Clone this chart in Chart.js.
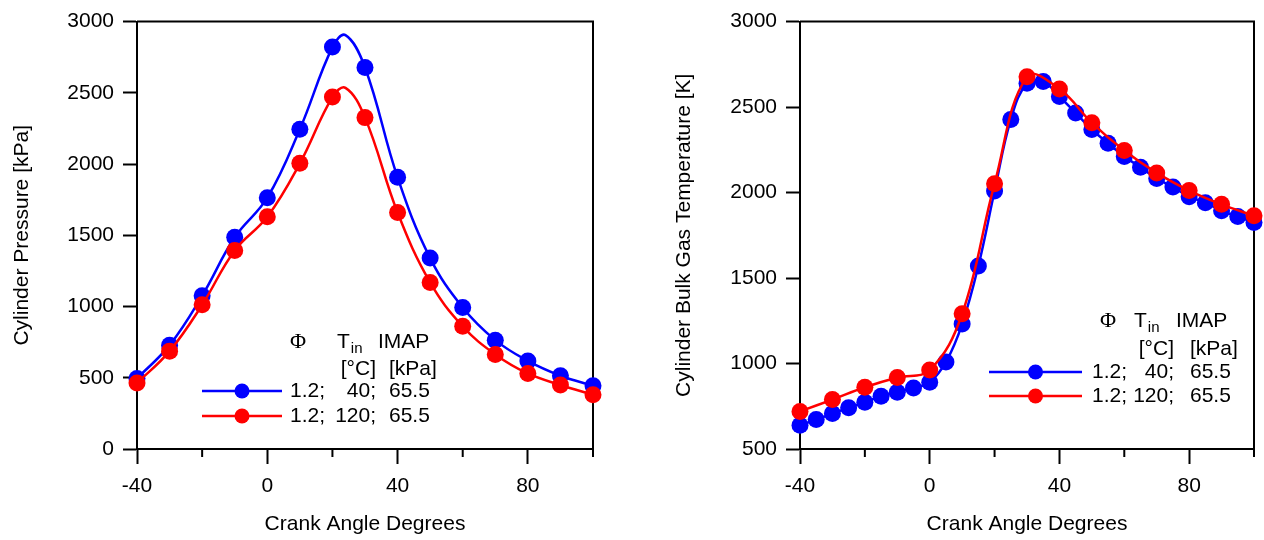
<!DOCTYPE html>
<html>
<head>
<meta charset="utf-8">
<script src="https://cdn.jsdelivr.net/npm/chart.js@4.4.0/dist/chart.umd.min.js"></script>
<style>
  html, body { margin: 0; padding: 0; background: #fff; }
  #wrap { position: relative; width: 1264px; height: 540px; }
  .box { position: absolute; top: 0; width: 632px; height: 540px; }
</style>
</head>
<body>
<div id="wrap">
  <div class="box" style="left:0"><canvas id="pressChart"></canvas></div>
  <div class="box" style="left:632px"><canvas id="tempChart"></canvas></div>
</div>
<script>
// crank angle for the pressure markers
const anglePress = [-40, -30, -20, -10, 0, 10, 20, 30, 40, 50, 60, 70, 80, 90, 100];
const press40 = [495, 729, 1076, 1486, 1764, 2245, 2821, 2678, 1907, 1340, 993, 764, 618, 514, 444];
const press120 = [463, 687, 1012, 1394, 1630, 2005, 2470, 2326, 1660, 1169, 861, 664, 530, 449, 380];
// peak of the fitted curves (no marker there)
const pressPeak40 = { x: 24, y: 2905 };
const pressPeak120 = { x: 24, y: 2535 };

// bulk gas temperature
const angleTemp40 = [-40, -35, -30, -25, -20, -15, -10, -5, 0, 5, 10, 15, 20, 25, 30, 35, 40,
  45, 50, 55, 60, 65, 70, 75, 80, 85, 90, 95, 100];
const temp40 = [639, 672, 707, 741, 774, 809, 832, 857, 890, 1009, 1231, 1571, 2009, 2427, 2639, 2649, 2562,
  2466, 2369, 2288, 2211, 2148, 2082, 2032, 1976, 1941, 1893, 1860, 1825];
const angleTemp120 = [-40, -30, -20, -10, 0, 10, 20, 30, 40, 50, 60, 70, 80, 90, 100];
const temp120 = [720, 789, 861, 918, 962, 1291, 2051, 2678, 2606, 2408, 2246, 2115, 2012, 1931, 1864];

const seriesLabels = [
  { phi: '1.2;', tin: '40;', imap: '65.5' },
  { phi: '1.2;', tin: '120;', imap: '65.5' }
];

const BLUE = '#0000ff';
const RED = '#ff0000';
const FONT = "'Liberation Sans', Arial, sans-serif";

Chart.defaults.font.family = FONT;
Chart.defaults.font.size = 21;
Chart.defaults.color = '#000';

function toPoints(xs, ys) {
  return xs.map((x, i) => ({ x: x, y: ys[i] }));
}

function withPeak(points, peak) {
  return points.concat([{ x: peak.x, y: peak.y, peak: true }]).sort((a, b) => a.x - b.x);
}

// frame on top/right plus the short (minor) x ticks
const framePlugin = {
  id: 'frame',
  beforeDatasetsDraw(chart) {
    const { ctx, chartArea: a } = chart;
    const x = chart.scales.x;
    ctx.save();
    ctx.strokeStyle = '#000';
    ctx.lineWidth = 2;
    ctx.beginPath();
    ctx.moveTo(a.left, a.top);
    ctx.lineTo(a.right, a.top);
    ctx.lineTo(a.right, a.bottom);
    x.ticks.forEach(t => {
      if (t.value % 40 !== 0) {
        const px = x.getPixelForValue(t.value);
        ctx.moveTo(px, a.bottom);
        ctx.lineTo(px, a.bottom + 8);
      }
    });
    ctx.stroke();
    ctx.restore();
  }
};

// hand drawn legend block inside the plot
const legendPlugin = {
  id: 'blockLegend',
  afterDraw(chart, args, o) {
    if (!o || !o.rows) return;
    const ctx = chart.ctx;
    ctx.save();
    ctx.fillStyle = '#000';
    ctx.textBaseline = 'middle';

    // header
    ctx.textAlign = 'center';
    ctx.font = '22px "Liberation Serif", serif';
    ctx.fillText('\u03a6', o.phiX, o.headY);
    ctx.font = '21px ' + FONT;
    ctx.textAlign = 'left';
    ctx.fillText('T', o.tX, o.headY);
    const tw = ctx.measureText('T').width;
    ctx.font = '15px ' + FONT;
    ctx.fillText('in', o.tX + tw + 1, o.headY + 7);
    ctx.font = '21px ' + FONT;
    ctx.fillText('IMAP', o.imapX, o.headY);
    ctx.textAlign = 'right';
    ctx.fillText('[\u00b0C]', o.colEnd, o.unitY);
    ctx.textAlign = 'left';
    ctx.fillText('[kPa]', o.valX, o.unitY);

    o.rows.forEach((r, i) => {
      const y = o.rowY + i * o.rowGap;
      ctx.strokeStyle = r.color;
      ctx.fillStyle = r.color;
      ctx.lineWidth = 2.5;
      ctx.beginPath();
      ctx.moveTo(o.lineX, y);
      ctx.lineTo(o.lineX + o.lineLen, y);
      ctx.stroke();
      ctx.beginPath();
      ctx.arc(o.lineX + o.lineLen / 2, y, 7.5, 0, Math.PI * 2);
      ctx.fill();

      const s = seriesLabels[i];
      ctx.fillStyle = '#000';
      ctx.textAlign = 'left';
      ctx.fillText(s.phi, o.textX, y);
      ctx.textAlign = 'right';
      ctx.fillText(s.tin, o.colEnd, y);
      ctx.textAlign = 'left';
      ctx.fillText(s.imap, o.valX, y);
    });
    ctx.restore();
  }
};

function lineSet(data, color, order) {
  return {
    data: data,
    borderColor: color,
    backgroundColor: color,
    borderWidth: 2.5,
    tension: 0.4,
    pointRadius: c => (c.raw && c.raw.peak ? 0 : 8.5),
    pointHoverRadius: c => (c.raw && c.raw.peak ? 0 : 8.5),
    pointBorderWidth: 0,
    pointBackgroundColor: color,
    clip: false,
    order: order
  };
}

function makeOptions(yMin, yMax, yTitle, yWidth, titlePad, padRight, legend) {
  return {
    animation: false,
    responsive: true,
    maintainAspectRatio: false,
    layout: { padding: { top: 17, right: padRight, left: 0, bottom: 0 } },
    plugins: {
      legend: { display: false },
      tooltip: { enabled: false },
      blockLegend: legend
    },
    scales: {
      x: {
        type: 'linear',
        min: -40,
        max: 100,
        afterFit: s => { s.height = 91; },
        ticks: {
          stepSize: 20,
          padding: 10,
          maxRotation: 0,
          autoSkip: false,
          callback: v => (v % 40 === 0 ? String(v) : '')
        },
        grid: {
          drawOnChartArea: false,
          tickLength: 15,
          tickWidth: 2,
          tickColor: c => (c.tick && c.tick.value % 40 === 0 ? '#000' : 'rgba(0,0,0,0)')
        },
        border: { display: true, color: '#000', width: 2 },
        title: { display: true, text: 'Crank Angle Degrees', padding: { top: 0, bottom: 3 } }
      },
      y: {
        min: yMin,
        max: yMax,
        afterFit: s => { s.width = yWidth; },
        ticks: { stepSize: 500, padding: 9, callback: v => String(v) },
        grid: { drawOnChartArea: false, tickLength: 14, tickWidth: 2, tickColor: '#000' },
        border: { display: true, color: '#000', width: 2 },
        title: { display: true, text: yTitle, padding: { top: titlePad, bottom: 0 } }
      }
    }
  };
}

new Chart(document.getElementById('pressChart'), {
  type: 'line',
  data: {
    datasets: [
      lineSet(withPeak(toPoints(anglePress, press40), pressPeak40), BLUE, 1),
      lineSet(withPeak(toPoints(anglePress, press120), pressPeak120), RED, 0)
    ]
  },
  options: makeOptions(0, 3000, 'Cylinder Pressure [kPa]', 137, 10, 39, {
    rows: [{ color: BLUE }, { color: RED }],
    lineX: 202, lineLen: 80, rowY: 391, rowGap: 25,
    textX: 290, colEnd: 376, valX: 389,
    phiX: 298, tX: 337, imapX: 378, headY: 342, unitY: 369
  }),
  plugins: [framePlugin, legendPlugin]
});

new Chart(document.getElementById('tempChart'), {
  type: 'line',
  data: {
    datasets: [
      lineSet(toPoints(angleTemp40, temp40), BLUE, 1),
      lineSet(toPoints(angleTemp120, temp120), RED, 0)
    ]
  },
  options: makeOptions(500, 3000, 'Cylinder Bulk Gas Temperature [K]', 168, 40, 9, {
    rows: [{ color: BLUE }, { color: RED }],
    lineX: 989 - 632, lineLen: 93, rowY: 372, rowGap: 24,
    textX: 1092 - 632, colEnd: 1174 - 632, valX: 1190 - 632,
    phiX: 1108 - 632, tX: 1134 - 632, imapX: 1176 - 632, headY: 321, unitY: 349
  }),
  plugins: [framePlugin, legendPlugin]
});
</script>
</body>
</html>
